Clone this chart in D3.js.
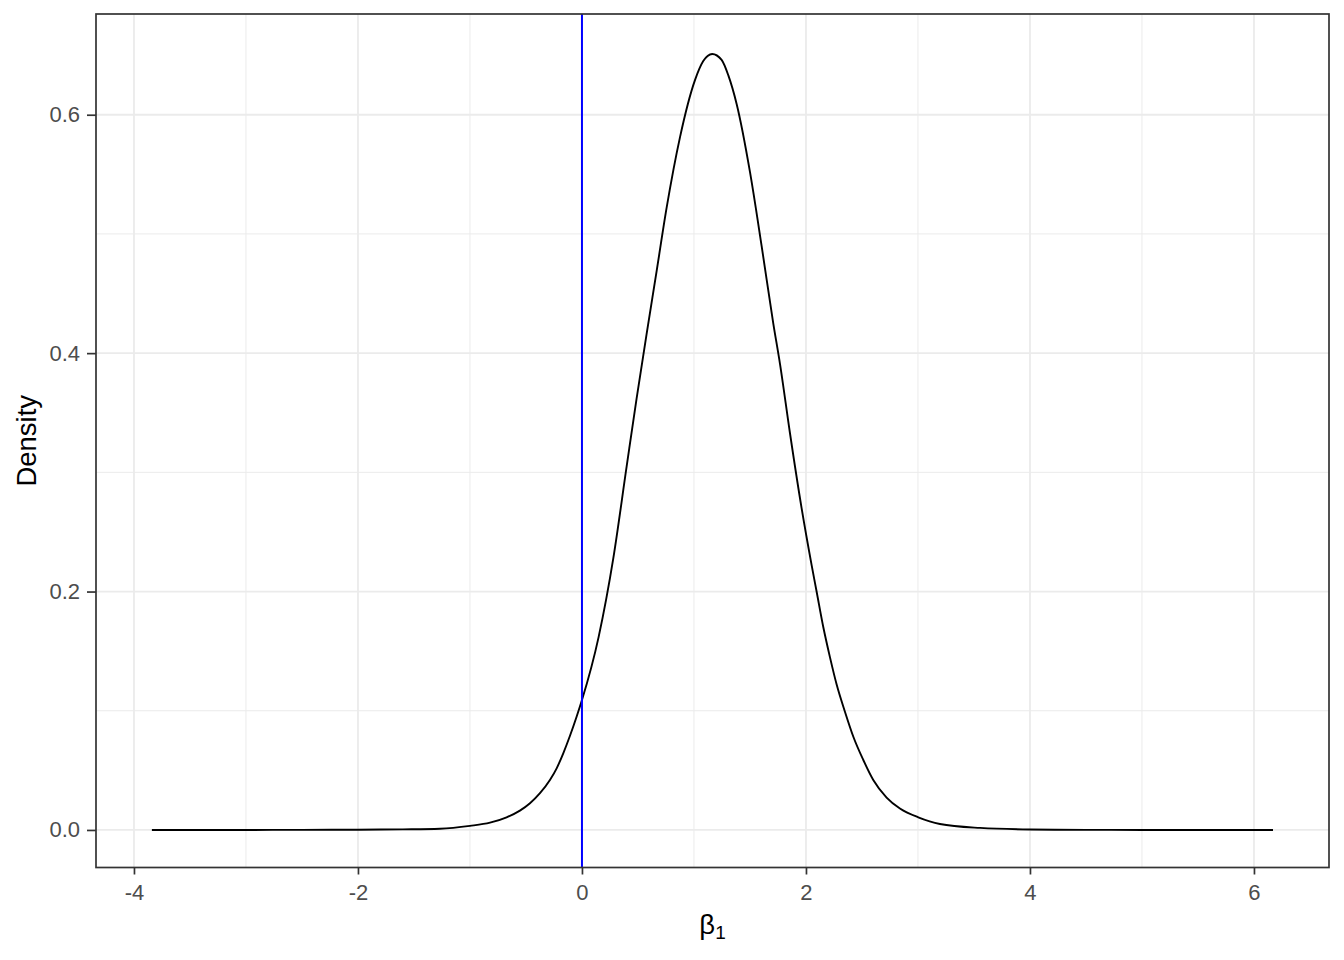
<!DOCTYPE html>
<html>
<head>
<meta charset="utf-8">
<script src="https://cdn.jsdelivr.net/npm/d3@7"></script>
<style>
  html, body { margin: 0; padding: 0; background: #fff; }
  text { font-family: "Liberation Sans", Arial, sans-serif; }
</style>
</head>
<body>
<svg id="chart" width="1344" height="960"></svg>
<script>
// ---- data ----
const betaValues = [-3.84, -3.0, -2.5, -2.0, -1.6, -1.268, -1.0, -0.821, -0.673, -0.554, -0.464,
  -0.375, -0.286, -0.226, -0.167, -0.107, -0.048, 0.0, 0.149, 0.280, 0.399, 0.488, 0.577, 0.667,
  0.756, 0.875, 1.009, 1.083, 1.163, 1.247, 1.307, 1.381, 1.5, 1.604, 1.708, 1.768, 1.857, 1.961, 2.051, 2.095,
  2.155, 2.214, 2.274, 2.348, 2.423, 2.512, 2.601, 2.720, 2.839, 3.003, 3.196, 3.554, 4.0, 4.5,
  5.0, 6.17];
const densityValues = [0, 0, 0.0001, 0.0002, 0.0005, 0.001, 0.0034, 0.0061, 0.0106, 0.0162, 0.0224,
  0.0308, 0.0419, 0.0517, 0.0643, 0.079, 0.095, 0.109, 0.162, 0.228, 0.305, 0.362, 0.416, 0.469,
  0.522, 0.581, 0.629, 0.645, 0.651, 0.646, 0.633, 0.609, 0.552, 0.490, 0.425, 0.391, 0.333, 0.270, 0.222, 0.2,
  0.170, 0.145, 0.122, 0.0992, 0.0782, 0.0587, 0.0419, 0.0272, 0.0180, 0.0106, 0.0050, 0.0017, 0.0004, 0.0001,
  0, 0];
const refLineX = [0];
const xTicks = [-4, -2, 0, 2, 4, 6];
const xMinor = [-3, -1, 1, 3, 5];
const yTicks = [0.0, 0.2, 0.4, 0.6];
const yMinor = [0.1, 0.3, 0.5];
const xLabel = "β";
const xLabelSub = "1";
const yLabel = "Density";

// ---- layout ----
const svg = d3.select("#chart");
const panel = { left: 96, right: 1329, top: 14, bottom: 867.5 };

const x = d3.scaleLinear().domain([-4.339, 6.670]).range([panel.left, panel.right]);
const y = d3.scaleLinear().domain([-0.0315, 0.6845]).range([panel.bottom, panel.top]);

// panel background
svg.append("rect").attr("x", panel.left).attr("y", panel.top)
  .attr("width", panel.right - panel.left).attr("height", panel.bottom - panel.top)
  .attr("fill", "#ffffff");

// minor grid
const grid = svg.append("g");
grid.selectAll(".xm").data(xMinor).enter().append("line")
  .attr("x1", d => x(d)).attr("x2", d => x(d)).attr("y1", panel.top).attr("y2", panel.bottom)
  .attr("stroke", "#EBEBEB").attr("stroke-width", 1);
grid.selectAll(".ym").data(yMinor).enter().append("line")
  .attr("y1", d => y(d)).attr("y2", d => y(d)).attr("x1", panel.left).attr("x2", panel.right)
  .attr("stroke", "#EBEBEB").attr("stroke-width", 1);
// major grid
grid.selectAll(".xM").data(xTicks).enter().append("line")
  .attr("x1", d => x(d)).attr("x2", d => x(d)).attr("y1", panel.top).attr("y2", panel.bottom)
  .attr("stroke", "#EBEBEB").attr("stroke-width", 1.8);
grid.selectAll(".yM").data(yTicks).enter().append("line")
  .attr("y1", d => y(d)).attr("y2", d => y(d)).attr("x1", panel.left).attr("x2", panel.right)
  .attr("stroke", "#EBEBEB").attr("stroke-width", 1.8);

// density curve
const pts = betaValues.map((b, i) => [b, densityValues[i]]);
const line = d3.line().x(d => x(d[0])).y(d => y(d[1])).curve(d3.curveMonotoneX);
svg.append("path").datum(pts).attr("d", line)
  .attr("fill", "none").attr("stroke", "#000").attr("stroke-width", 1.9)
  .attr("stroke-linejoin", "round");

// reference line
svg.selectAll(".ref").data(refLineX).enter().append("line")
  .attr("x1", d => x(d)).attr("x2", d => x(d)).attr("y1", panel.top).attr("y2", panel.bottom)
  .attr("stroke", "#0000FF").attr("stroke-width", 2);

// panel border
svg.append("rect").attr("x", panel.left).attr("y", panel.top)
  .attr("width", panel.right - panel.left).attr("height", panel.bottom - panel.top)
  .attr("fill", "none").attr("stroke", "#333333").attr("stroke-width", 1.7);

// axes
const xAxis = d3.axisBottom(x).tickValues(xTicks).tickSize(7).tickPadding(10)
  .tickFormat(d3.format("d"));
const gx = svg.append("g").attr("transform", `translate(0,${panel.bottom})`).call(xAxis);
gx.select(".domain").remove();
gx.selectAll(".tick line").attr("stroke", "#333333").attr("stroke-width", 1.7);
gx.selectAll(".tick text").attr("fill", "#4D4D4D").style("font-size", "22px")
  .text(d => d < 0 ? "-" + Math.abs(d) : d);

const yAxis = d3.axisLeft(y).tickValues(yTicks).tickSize(9).tickPadding(7)
  .tickFormat(d3.format(".1f"));
const gy = svg.append("g").attr("transform", `translate(${panel.left},0)`).call(yAxis);
gy.select(".domain").remove();
gy.selectAll(".tick line").attr("stroke", "#333333").attr("stroke-width", 1.7);
gy.selectAll(".tick text").attr("fill", "#4D4D4D").style("font-size", "22px");

// axis titles
const xt = svg.append("text").attr("x", (panel.left + panel.right) / 2).attr("y", 934)
  .attr("text-anchor", "middle").attr("fill", "#000").style("font-size", "27.5px");
xt.append("tspan").text(xLabel);
xt.append("tspan").attr("dy", 5).style("font-size", "19px").text(xLabelSub);

svg.append("text")
  .attr("transform", `translate(35.5,${(panel.top + panel.bottom) / 2}) rotate(-90)`)
  .attr("text-anchor", "middle").attr("fill", "#000").style("font-size", "27.5px")
  .text(yLabel);
</script>
</body>
</html>
